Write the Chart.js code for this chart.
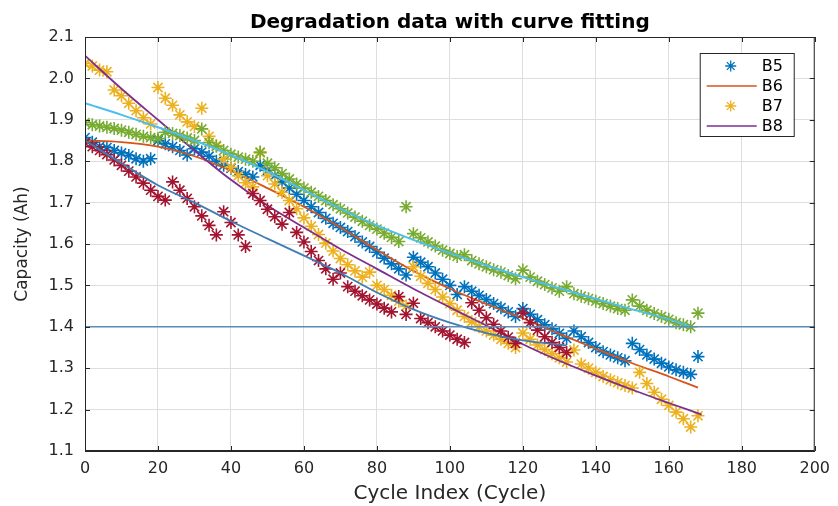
<!DOCTYPE html>
<html>
<head>
<meta charset="utf-8">
<script src="https://cdn.jsdelivr.net/npm/chart.js@4.4.1/dist/chart.umd.min.js"></script>
<style>
  body { margin: 0; background: #fff; }
  canvas { display: block; }
</style>
</head>
<body>
<canvas id="degChart" width="838" height="506"></canvas>
<script>
// cycle index of the measured points (every second cycle)
const cycleIdx = [0, 2, 4, 6, 8, 10, 12, 14, 16, 18, 20, 22, 24, 26, 28, 30, 32, 34, 36, 38,
  40, 42, 44, 46, 48, 50, 52, 54, 56, 58, 60, 62, 64, 66, 68, 70, 72, 74, 76, 78,
  80, 82, 84, 86, 88, 90, 92, 94, 96, 98, 100, 102, 104, 106, 108, 110, 112, 114, 116, 118,
  120, 122, 124, 126, 128, 130, 132, 134, 136, 138, 140, 142, 144, 146, 148, 150, 152, 154, 156, 158,
  160, 162, 164, 166, 168];

// measured capacity (Ah)
const capB5 = [1.857, 1.846, 1.835, 1.833, 1.826, 1.82, 1.814, 1.806, 1.80, 1.806,
  1.85, 1.842, 1.835, 1.826, 1.815, 1.83, 1.822, 1.812, 1.80, 1.79,
  1.783, 1.775, 1.768, 1.762, 1.79, 1.778, 1.765, 1.75, 1.735, 1.72,
  1.705, 1.69, 1.676, 1.662, 1.65, 1.64, 1.63, 1.618, 1.605, 1.594,
  1.58, 1.566, 1.552, 1.54, 1.525, 1.568, 1.556, 1.545, 1.53, 1.515,
  1.50, 1.478, 1.497, 1.486, 1.476, 1.466, 1.456, 1.446, 1.436, 1.425,
  1.444, 1.43, 1.417, 1.405, 1.395, 1.384, 1.372, 1.39, 1.376, 1.362,
  1.35, 1.34, 1.332, 1.325, 1.318, 1.36, 1.345, 1.332, 1.322, 1.312,
  1.303, 1.296, 1.29, 1.285, 1.328];

const capB7 = [2.036, 2.03, 2.02, 2.016, 1.972, 1.958, 1.94, 1.922, 1.905, 1.89,
  1.978, 1.952, 1.935, 1.912, 1.895, 1.884, 1.928, 1.86, 1.838, 1.805,
  1.785, 1.765, 1.748, 1.738, 1.82, 1.765, 1.745, 1.725, 1.705, 1.685,
  1.663, 1.643, 1.623, 1.602, 1.583, 1.565, 1.55, 1.535, 1.52, 1.532,
  1.50, 1.49, 1.476, 1.462, 1.45, 1.545, 1.522, 1.505, 1.49, 1.472,
  1.456, 1.44, 1.425, 1.412, 1.40, 1.39, 1.38, 1.37, 1.36, 1.35,
  1.385, 1.37, 1.356, 1.345, 1.335, 1.325, 1.315, 1.344, 1.31, 1.30,
  1.29, 1.28, 1.272, 1.265, 1.258, 1.252, 1.29, 1.263, 1.242, 1.225,
  1.21, 1.194, 1.178, 1.158, 1.185];

const capGreen = [1.893, 1.888, 1.885, 1.882, 1.879, 1.875, 1.87, 1.865, 1.86, 1.857,
  1.855, 1.87, 1.867, 1.862, 1.856, 1.85, 1.878, 1.845, 1.836, 1.826,
  1.817, 1.81, 1.805, 1.80, 1.822, 1.795, 1.784, 1.77, 1.757, 1.745,
  1.735, 1.725, 1.715, 1.705, 1.695, 1.685, 1.675, 1.665, 1.655, 1.645,
  1.636, 1.626, 1.616, 1.606, 1.69, 1.625, 1.615, 1.605, 1.595, 1.585,
  1.577, 1.57, 1.574, 1.56, 1.552, 1.545, 1.538, 1.532, 1.524, 1.516,
  1.537, 1.52, 1.51, 1.502, 1.494, 1.486, 1.497, 1.48, 1.474, 1.468,
  1.462, 1.456, 1.45, 1.444, 1.44, 1.465, 1.45, 1.44, 1.432, 1.425,
  1.418, 1.41, 1.405, 1.40, 1.433];

// only 0..132
const capRed = [1.844, 1.835, 1.826, 1.816, 1.803, 1.79, 1.776, 1.762, 1.747, 1.73,
  1.715, 1.706, 1.75, 1.73, 1.71, 1.69, 1.668, 1.645, 1.622, 1.678,
  1.652, 1.622, 1.594, 1.722, 1.705, 1.684, 1.666, 1.648, 1.676, 1.628,
  1.605, 1.582, 1.56, 1.54, 1.515, 1.53, 1.497, 1.486, 1.475, 1.465,
  1.455, 1.445, 1.436, 1.473, 1.43, 1.457, 1.42, 1.41, 1.40, 1.39,
  1.38, 1.37, 1.362, 1.458, 1.44, 1.422, 1.406, 1.39, 1.375, 1.36,
  1.433, 1.41, 1.392, 1.376, 1.362, 1.35, 1.338];

// fitted curves
const fitB6Cyc = [0, 10, 20, 30, 40, 50, 60, 70, 80, 90, 100, 110, 120, 130, 140, 150, 160, 168];
const fitB6 = [1.85, 1.846, 1.835, 1.812, 1.777, 1.735, 1.69, 1.64, 1.586, 1.535, 1.492, 1.455, 1.42, 1.383, 1.347, 1.312, 1.28, 1.253];

const fitB8Cyc = [0, 10, 20, 30, 40, 50, 60, 70, 80, 90, 100, 110, 120, 130, 140, 150, 160, 169];
const fitB8 = [2.055, 1.975, 1.9, 1.826, 1.755, 1.693, 1.64, 1.588, 1.54, 1.492, 1.447, 1.403, 1.358, 1.318, 1.282, 1.248, 1.216, 1.188];

const fitGreenCyc = [0, 10, 20, 30, 40, 50, 60, 70, 80, 90, 100, 110, 120, 130, 140, 150, 160, 166];
const fitGreen = [1.94, 1.912, 1.882, 1.85, 1.815, 1.775, 1.73, 1.685, 1.645, 1.61, 1.578, 1.548, 1.52, 1.493, 1.467, 1.442, 1.418, 1.40];

const fitRedCyc = [0, 10, 20, 30, 40, 50, 60, 70, 80, 90, 100, 110, 120, 132];
const fitRed = [1.85, 1.795, 1.742, 1.70, 1.655, 1.613, 1.572, 1.53, 1.483, 1.442, 1.41, 1.385, 1.367, 1.355];

const eolCyc = [0, 200];
const eolCap = [1.4, 1.4];

const xTicks = [0, 20, 40, 60, 80, 100, 120, 140, 160, 180, 200];
const yTicks = [1.1, 1.2, 1.3, 1.4, 1.5, 1.6, 1.7, 1.8, 1.9, 2.0, 2.1];

const FONT = 'DejaVu Sans';
const AXIS = '#262626';

function pts(xs, ys) {
  return ys.map((v, i) => ({ x: xs[i], y: v }));
}

function starSet(label, xs, ys, color) {
  return {
    label: label, data: pts(xs, ys), showLine: false,
    pointStyle: 'star', pointRadius: 6.5, pointBorderWidth: 1.6,
    borderColor: color, backgroundColor: color, kind: 'star'
  };
}

function lineSet(label, xs, ys, color, w) {
  return {
    label: label, data: pts(xs, ys), showLine: true,
    pointRadius: 0, borderWidth: w || 1.8, borderColor: color, backgroundColor: color,
    tension: 0.3, cubicInterpolationMode: 'monotone', kind: 'line'
  };
}

const datasets = [
  starSet('B5', cycleIdx, capB5, '#0072BD'),
  lineSet('B6', fitB6Cyc, fitB6, '#D95319'),
  starSet('B7', cycleIdx, capB7, '#EDB120'),
  lineSet('B8', fitB8Cyc, fitB8, '#7E2F8E'),
  starSet('data5', cycleIdx, capGreen, '#77AC30'),
  lineSet('fit6', fitGreenCyc, fitGreen, '#4DBEEE', 2),
  starSet('data7', cycleIdx.slice(0, capRed.length), capRed, '#A2142F'),
  lineSet('fit8', fitRedCyc, fitRed, '#3F7DB3'),
  lineSet('eol', eolCyc, eolCap, '#5A8CB6', 1.5)
];
// later plots on top, like the original
datasets.forEach((d, i) => { d.order = datasets.length - i; });

function drawStar(ctx, x, y, r) {
  ctx.beginPath();
  for (let k = 0; k < 4; k++) {
    const a = k * Math.PI / 4;
    ctx.moveTo(x - r * Math.cos(a), y - r * Math.sin(a));
    ctx.lineTo(x + r * Math.cos(a), y + r * Math.sin(a));
  }
  ctx.stroke();
}

// box around axes, inward ticks and the legend inside the plot
const boxPlugin = {
  id: 'boxPlugin',
  afterDatasetsDraw(chart) {
    const ctx = chart.ctx;
    const a = chart.chartArea;
    const sx = chart.scales.x, sy = chart.scales.y;
    ctx.save();
    ctx.strokeStyle = AXIS;
    ctx.lineWidth = 1;
    ctx.strokeRect(a.left + 0.5, a.top + 0.5, a.right - a.left - 1, a.bottom - a.top - 1);
    ctx.beginPath();
    xTicks.forEach(t => {
      const px = Math.round(sx.getPixelForValue(t)) + 0.5;
      ctx.moveTo(px, a.bottom); ctx.lineTo(px, a.bottom - 5);
      ctx.moveTo(px, a.top); ctx.lineTo(px, a.top + 5);
    });
    yTicks.forEach(t => {
      const py = Math.round(sy.getPixelForValue(t)) + 0.5;
      ctx.moveTo(a.left, py); ctx.lineTo(a.left + 5, py);
      ctx.moveTo(a.right, py); ctx.lineTo(a.right - 5, py);
    });
    ctx.stroke();

    // legend
    const x0 = a.right - 115, y0 = a.top + 16, w = 94, h = 83;
    ctx.fillStyle = '#fff';
    ctx.fillRect(x0, y0, w, h);
    ctx.strokeStyle = AXIS;
    ctx.strokeRect(x0 + 0.5, y0 + 0.5, w, h);
    ctx.font = '16px "' + FONT + '"';
    ctx.textBaseline = 'middle';
    ctx.textAlign = 'left';
    chart.data.datasets.slice(0, 4).forEach((d, i) => {
      const yy = y0 + 13 + i * 20;
      ctx.strokeStyle = d.borderColor;
      if (d.kind === 'star') {
        ctx.lineWidth = 1.3;
        drawStar(ctx, x0 + 31, yy, 5.5);
      } else {
        ctx.lineWidth = 1.5;
        ctx.beginPath();
        ctx.moveTo(x0 + 7, yy); ctx.lineTo(x0 + 57, yy);
        ctx.stroke();
      }
      ctx.fillStyle = '#000';
      ctx.fillText(d.label, x0 + 62, yy + 1);
    });
    ctx.restore();
  }
};

const ctx = document.getElementById('degChart').getContext('2d');

const degChart = new Chart(ctx, {
  type: 'scatter',
  data: { datasets: datasets },
  options: {
    responsive: false,
    animation: false,
    events: [],
    layout: { padding: { left: 0, right: 22, top: 0, bottom: 0 } },
    plugins: {
      legend: { display: false },
      tooltip: { enabled: false },
      title: {
        display: true,
        fullSize: false,
        text: 'Degradation data with curve fitting',
        color: '#000',
        font: { family: FONT, size: 20, weight: 'bold' },
        padding: { top: 11, bottom: 2 }
      }
    },
    scales: {
      x: {
        type: 'linear', min: 0, max: 200,
        afterFit(s) { s.height = 55; },
        ticks: { stepSize: 20, color: AXIS, padding: 8, font: { family: FONT, size: 16 } },
        grid: { color: '#dedede', drawTicks: false },
        border: { display: true, color: AXIS },
        title: {
          display: true, text: 'Cycle Index (Cycle)', color: AXIS,
          font: { family: FONT, size: 20 }, padding: { top: 0, bottom: 0 }
        }
      },
      y: {
        type: 'linear', min: 1.1, max: 2.1,
        afterFit(s) { s.width = 85; },
        ticks: { stepSize: 0.1, color: AXIS, padding: 11, font: { family: FONT, size: 16 } },
        grid: { color: '#dedede', drawTicks: false },
        border: { display: true, color: AXIS },
        title: {
          display: true, text: 'Capacity (Ah)', color: AXIS,
          font: { family: FONT, size: 17 }, padding: { top: 12, bottom: 0 }
        }
      }
    }
  },
  plugins: [boxPlugin]
});
</script>
</body>
</html>
